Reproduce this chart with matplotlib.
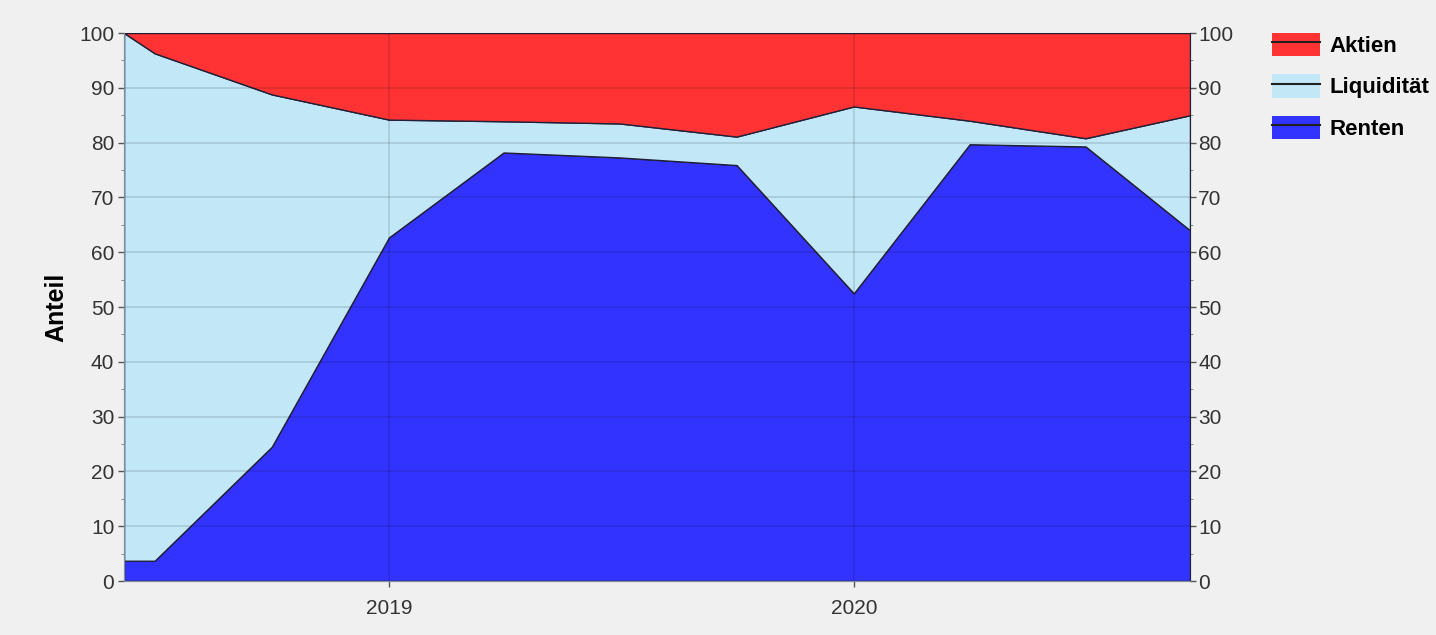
import numpy as np
import pandas as pd
import matplotlib
matplotlib.use("Agg")
import matplotlib.pyplot as plt
import matplotlib.dates as mdates
from matplotlib.patches import Patch
from matplotlib.lines import Line2D

plt.rcParams["font.family"] = ["Liberation Sans", "DejaVu Sans"]

# Stichtage und Anteile (in %)
dates = pd.to_datetime(["2018-06-07", "2018-07-01", "2018-10-01", "2019-01-01",
                        "2019-04-01", "2019-07-01", "2019-10-01", "2020-01-01",
                        "2020-04-01", "2020-07-01", "2020-09-21"])
renten = np.array([3.7, 3.7, 24.5, 62.7, 78.2, 77.3, 75.9, 52.5, 79.7, 79.3, 64.0])
obergrenze = np.array([100, 96.3, 88.8, 84.2, 83.9, 83.5, 81.1, 86.6, 84.0, 80.8, 85.0])
liquiditaet = obergrenze - renten
aktien = 100 - obergrenze

labels = ["Renten", "Liquidität", "Aktien"]
colors = ["#3333ff", "#c2e8f8", "#ff3333"]

fig = plt.figure(figsize=(14.36, 6.35), dpi=100, facecolor="#f0f0f0")
ax = fig.add_axes([0.0864, 0.085, 0.7423, 0.863])
ax.set_facecolor("#c2e8f8")

ax.stackplot(dates, renten, liquiditaet, aktien, colors=colors,
             edgecolor="#202038", linewidth=1.0, zorder=1)

ax.set_ylim(0, 100)
ax.set_xlim(dates[0], dates[-1])
ax.set_yticks(np.arange(0, 101, 10))
ax.set_yticks(np.arange(5, 100, 10), minor=True)
ax.xaxis.set_major_locator(mdates.YearLocator())
ax.xaxis.set_major_formatter(mdates.DateFormatter("%Y"))

ax.grid(True, which="major", color="black", alpha=0.13, linewidth=1.2, zorder=2)
ax.set_axisbelow(False)

for s in ax.spines.values():
    s.set_color("#7f8fa0")
ax.spines["top"].set_visible(False)

ax.tick_params(axis="y", labelsize=15, labelcolor="#333333", color="#555555",
               length=4, width=1, direction="out", pad=3)
ax.tick_params(axis="x", labelsize=15, labelcolor="#333333", color="#555555",
               length=4, width=1, direction="out", pad=9)
ax.tick_params(which="minor", length=2, color="#777777")
ax.set_ylabel("Anteil", fontsize=18, fontweight="bold", labelpad=8)

ax2 = ax.twinx()
ax2.set_ylim(0, 100)
ax2.set_yticks(np.arange(0, 101, 10))
ax2.set_yticks(np.arange(5, 100, 10), minor=True)
ax2.tick_params(axis="y", labelsize=15, labelcolor="#333333", color="#555555",
                length=4, width=1, pad=2)
ax2.tick_params(which="minor", length=2, color="#777777")
for s in ax2.spines.values():
    s.set_color("#7f8fa0")
ax2.spines["top"].set_visible(False)
ax2.spines["right"].set_color("#202038")

handles = []
for c in colors[::-1]:
    handles.append((Patch(facecolor=c, edgecolor="none"),
                    Line2D([0], [0], color="#202020", linewidth=1.5)))
fig.legend(handles, labels[::-1], loc="upper left", bbox_to_anchor=(0.878, 0.966),
           frameon=False, borderpad=0, handlelength=2.15, handleheight=1.25,
           labelspacing=0.78, handletextpad=0.45,
           prop={"size": 16, "weight": "bold"})

fig.savefig("out.png", dpi=100, facecolor=fig.get_facecolor())
